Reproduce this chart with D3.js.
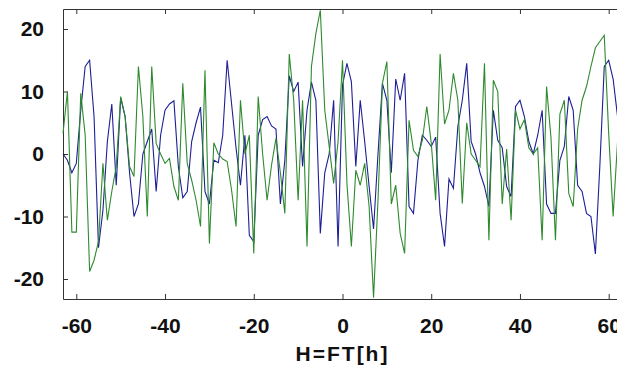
<!DOCTYPE html>
<html>
<head>
<meta charset="utf-8">
<script src="https://cdn.jsdelivr.net/npm/d3@7"></script>
<style>
  body { margin: 0; background: #fff; }
  svg { display: block; }
  .axis text { font-family: "Liberation Sans", Arial, sans-serif; font-size: 21px; font-weight: bold; fill: #111; }
  .axis path, .axis line { stroke: #333; }
</style>
</head>
<body>
<div id="chart"></div>
<script>
// sample positions h
var hValues = [
  -63, -62, -61, -60, -59, -58, -57, -56, -55, -54,
  -53, -52, -51, -50, -49, -48, -47, -46, -45, -44,
  -43, -42, -41, -40, -39, -38, -37, -36, -35, -34,
  -33, -32, -31, -30, -29, -28, -27, -26, -25, -24,
  -23, -22, -21, -20, -19, -18, -17, -16, -15, -14,
  -13, -12, -11, -10, -9, -8, -7, -6, -5, -4,
  -3, -2, -1, 0, 1, 2, 3, 4, 5, 6,
  7, 8, 9, 10, 11, 12, 13, 14, 15, 16,
  17, 18, 19, 20, 21, 22, 23, 24, 25, 26,
  27, 28, 29, 30, 31, 32, 33, 34, 35, 36,
  37, 38, 39, 40, 41, 42, 43, 44, 45, 46,
  47, 48, 49, 50, 51, 52, 53, 54, 55, 56,
  57, 58, 59, 60, 61, 62, 63
];

// blue series
var blueValues = [
  0, -1, -3, -1.5, 7, 14, 15, 6, -15, -9,
  2, 8, -5, 9, 6, -3, -10, -8, 0, 2,
  4, -6, 3, 7, 8, 8.5, -2, -7, -6, 2,
  5, 7.5, -6, -8, -1, -1.4, 3, 15, 8, 1,
  -5, 3, -13, -14, 3, 5.5, 6, 4.5, 4, -8,
  -1, 12.5, 10, 11.5, -2, 7, 11.5, 8.6, -12.7, -3,
  0, 8.6, -14.8, 11, 14.5, 11.6, -2, 8.6, 2, -5.2,
  -12, 0, 11.3, 8.6, -3, 12, 8.6, 12.9, -8.4, -9.5,
  -1, 3, 2.2, 1.2, 2.7, -9.5, -14.8, -4, -5.5, 4.4,
  8.6, 14.5, 2, 0, -3, -5.2, -8.4, 7, 2.2, 1,
  -5.2, -6.8, 7.6, 8.6, 6, 2, 0, 3, 7, -8,
  -9.5, -9.5, -1, 1.2, 9.2, 7, -5, -6, -9.5, -10,
  -16, -2, 14, 15, 12, 6, 3
];

// green series
var greenValues = [
  3.3, 10, -12.5, -12.5, 9.7, 3, -18.8, -17, -14, -1.5,
  -10.6, -6, -2, 9.2, 6, -2, -3.6, 14, 6, -10,
  14, 1.7, 0, -1.5, -0.7, -5.2, -7.4, 11.3, -1.5, -4.2,
  -7.4, -11.6, 13.4, -14.3, 1.8, 0, -0.8, -1.2, -5.8, -11.6,
  8.6, 0, 3, -15.9, 9.2, 0, -7.4, -1.8, 2.5, -3,
  -9.5, 16, 8.6, -7.4, 8.6, -14.8, 14, 19.3, 23, 7,
  1.2, -4.7, 2, 15, -4.7, -14.8, -2.6, -5, -1.5, -8.4,
  -23, -7.4, 11.3, 14.8, -8, -5, -12.7, -15.9, 5.4, 0.6,
  -0.4, 2.2, 7.6, 1.8, -7.4, 16, 4.8, 7, 12.9, 8.6,
  -7.9, 5, 0, -1, -2, 14.5, -13.8, 11.8, 10, -8,
  0.8, -10.6, 7, 4, 5.5, 1, 0, 1, -13.8, 10.8,
  2.5, -13.8, 6.4, 8.6, -6.3, -8.4, 4, 8.6, 10.8, 14,
  17, 18, 19, 3.3, -10, 2, 5
];

var xTicks = [-60, -40, -20, 0, 20, 40, 60];
var yTicks = [-20, -10, 0, 10, 20];
var xLabel = "H=FT[h]";

// dimensions
var width = 617, height = 374;
var margin = { top: 9, left: 63, bottom: 75 };
var plotH = height - margin.top - margin.bottom;

var svg = d3.select("#chart")
  .append("svg")
  .attr("width", width)
  .attr("height", height);

var x = d3.scaleLinear().domain([-63, 63]).range([margin.left, margin.left + 559]);
var y = d3.scaleLinear().domain([-23.2, 23.2]).range([margin.top + plotH, margin.top]);

var fmt = function (d) { return String(d); };

// bottom axis, ticks pointing in
svg.append("g")
  .attr("class", "axis")
  .attr("transform", "translate(0," + (margin.top + plotH) + ")")
  .call(d3.axisBottom(x).tickValues(xTicks).tickFormat(fmt).tickSizeInner(-5).tickSizeOuter(0).tickPadding(19));

// top axis
svg.append("g")
  .attr("class", "axis")
  .attr("transform", "translate(0," + margin.top + ")")
  .call(d3.axisTop(x).tickValues(xTicks).tickFormat("").tickSizeInner(-5).tickSizeOuter(0));

// left axis
svg.append("g")
  .attr("class", "axis")
  .attr("transform", "translate(" + margin.left + ",0)")
  .call(d3.axisLeft(y).tickValues(yTicks).tickFormat(fmt).tickSizeInner(-5).tickSizeOuter(0).tickPadding(19));

// x axis label
svg.append("text")
  .attr("x", x(0))
  .attr("y", 361)
  .attr("text-anchor", "middle")
  .style("font-family", "'Liberation Sans', Arial, sans-serif")
  .style("font-size", "21px")
  .style("font-weight", "bold")
  .style("letter-spacing", "2px")
  .style("fill", "#111")
  .text(xLabel);

// lines
var line = function (vals) {
  return d3.line()
    .x(function (d, i) { return x(hValues[i]); })
    .y(function (d) { return y(d); })(vals);
};

svg.append("path")
  .attr("d", line(blueValues))
  .attr("fill", "none")
  .attr("stroke", "#1e1e96")
  .attr("stroke-width", 1.1);

svg.append("path")
  .attr("d", line(greenValues))
  .attr("fill", "none")
  .attr("stroke", "#2e8a2e")
  .attr("stroke-width", 1.1);
</script>
</body>
</html>
